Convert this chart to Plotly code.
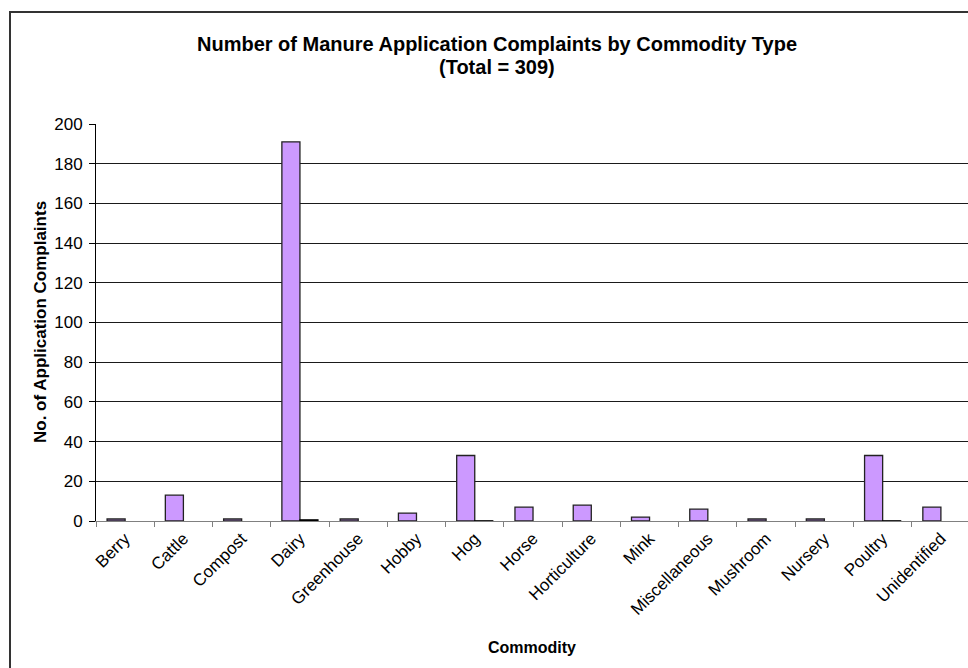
import plotly.graph_objects as go

categories = ["Berry", "Cattle", "Compost", "Dairy", "Greenhouse", "Hobby", "Hog", "Horse",
              "Horticulture", "Mink", "Miscellaneous", "Mushroom", "Nursery", "Poultry", "Unidentified"]
complaints = [1, 13, 1, 191, 1, 4, 33, 7, 8, 2, 6, 1, 1, 33, 7]
share = [None, None, None, 0.62, None, None, 0.11, None, None, None, None, None, None, 0.11, None]

W, H = 968, 668
L, R, T, B = 96, 0, 124, 147
PW, PH = W - L - R, H - T - B

def px(x):
    return (x - L) / PW

def py(y):
    return (H - B - y) / PH

FONT = "Liberation Sans, Arial, sans-serif"

fig = go.Figure()
fig.add_trace(go.Bar(x=categories, y=complaints, marker=dict(color="#CC99FF", line=dict(color="#222222", width=1.3)),
                     showlegend=False))
fig.add_trace(go.Bar(x=categories, y=share, marker=dict(color="#000000", line=dict(color="#000000", width=1.2)),
                     showlegend=False))

fig.update_layout(
    width=W, height=H,
    margin=dict(l=L, r=R, t=T, b=B),
    paper_bgcolor="white", plot_bgcolor="white",
    barmode="group", bargap=0.38, bargroupgap=0,
    font=dict(family=FONT, color="black"),
    xaxis=dict(range=[-0.5, 14.465], showline=True, linecolor="#808080", linewidth=1,
               ticks="outside", tickson="boundaries", ticklen=5, tickcolor="#808080",
               tickangle=-45, tickfont=dict(size=17, family=FONT), showgrid=False),
    yaxis=dict(range=[0, 200], dtick=20, showline=True, linecolor="#000000", linewidth=1,
               ticks="outside", ticklen=6, tickcolor="#000000", tickfont=dict(size=17, family=FONT),
               ticklabelstandoff=3,
               showgrid=True, gridcolor="#1a1a1a", gridwidth=1, zeroline=False),
    shapes=[dict(type="rect", xref="paper", yref="paper",
                 x0=px(10), x1=px(1000), y0=py(700), y1=py(12),
                 line=dict(color="#333333", width=2), fillcolor="rgba(0,0,0,0)", layer="below")],
    annotations=[
        dict(text="<b>Number of Manure Application Complaints by Commodity Type</b>", x=px(497), y=py(44),
             xref="paper", yref="paper", showarrow=False, font=dict(size=20, family=FONT), xanchor="center", yanchor="middle"),
        dict(text="<b>(Total = 309)</b>", x=px(497), y=py(67),
             xref="paper", yref="paper", showarrow=False, font=dict(size=20, family=FONT), xanchor="center", yanchor="middle"),
        dict(text="<b>No. of Application Complaints</b>", x=px(40), y=py(322), textangle=-90,
             xref="paper", yref="paper", showarrow=False, font=dict(size=17, family=FONT), xanchor="center", yanchor="middle"),
        dict(text="<b>Commodity</b>", x=px(532), y=py(647),
             xref="paper", yref="paper", showarrow=False, font=dict(size=16, family=FONT), xanchor="center", yanchor="middle"),
    ],
)

fig.write_html("out.html")
